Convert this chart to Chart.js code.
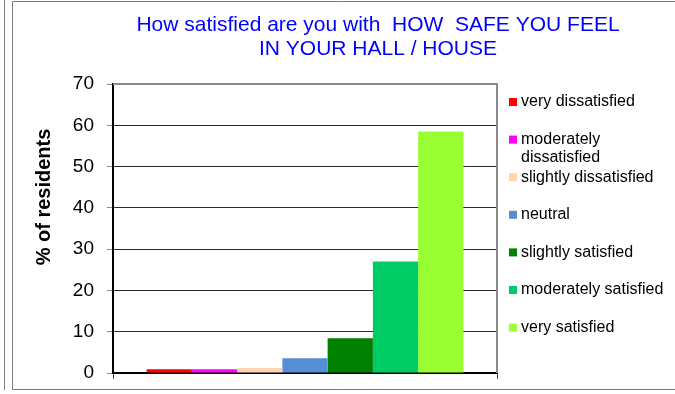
<!DOCTYPE html>
<html>
<head>
<meta charset="utf-8">
<script src="https://cdn.jsdelivr.net/npm/chart.js@4/dist/chart.umd.min.js"></script>
<style>
  html, body { margin: 0; padding: 0; background: #fff; }
  #wrap { width: 675px; height: 394px; }
</style>
</head>
<body>
<div id="wrap"><canvas id="c" width="675" height="394"></canvas></div>
<script>
// Survey question and answers
const titleLines = ['How satisfied are you with  HOW  SAFE YOU FEEL', 'IN YOUR HALL / HOUSE'];
const yAxisTitle = '% of residents';
const categories = [''];
const seriesLabels = [
  'very dissatisfied',
  'moderately dissatisfied',
  'slightly dissatisfied',
  'neutral',
  'slightly satisfied',
  'moderately satisfied',
  'very satisfied'
];
// % of residents giving each answer
const seriesValues = [0.9, 0.9, 1.2, 3.6, 8.4, 27.0, 58.5];
const seriesColors = ['#FF0000', '#FF00FF', '#FFD6B3', '#558ED5', '#008000', '#00CC66', '#99FF33'];
const yTicks = [0, 10, 20, 30, 40, 50, 60, 70];

const FONT = 'Liberation Sans, Arial, sans-serif';

// Outer frame, plot box, title, axis title and legend
const decorations = {
  id: 'decorations',
  beforeDraw(chart) {
    const ctx = chart.ctx;
    ctx.save();
    ctx.fillStyle = '#fff';
    ctx.fillRect(0, 0, chart.width, chart.height);
    ctx.strokeStyle = '#7a7a7a';
    ctx.lineWidth = 1;
    ctx.beginPath();
    ctx.moveTo(4.5, 0); ctx.lineTo(4.5, 390);
    ctx.moveTo(12.5, 1.5); ctx.lineTo(12.5, 389.5);
    ctx.moveTo(12.5, 1.5); ctx.lineTo(675, 1.5);
    ctx.moveTo(12.5, 389.5); ctx.lineTo(675, 389.5);
    ctx.stroke();
    ctx.restore();
  },
  afterDraw(chart) {
    const ctx = chart.ctx;
    const a = chart.chartArea;
    ctx.save();
    // plot box top and right edges
    ctx.strokeStyle = '#8c8c8c';
    ctx.lineWidth = 2;
    ctx.beginPath();
    ctx.moveTo(a.left, a.top); ctx.lineTo(a.right, a.top); ctx.lineTo(a.right, a.bottom);
    ctx.stroke();

    // title
    ctx.fillStyle = '#0000FF';
    ctx.font = '21px ' + FONT;
    ctx.textAlign = 'center';
    ctx.textBaseline = 'middle';
    titleLines.forEach((t, i) => ctx.fillText(t, 378, 25 + i * 24.5));

    // y axis title
    ctx.save();
    ctx.translate(44, 197);
    ctx.rotate(-Math.PI / 2);
    ctx.fillStyle = '#000';
    ctx.font = 'bold 20px ' + FONT;
    ctx.fillText(yAxisTitle, 0, 0);
    ctx.restore();

    // legend
    ctx.font = '16px ' + FONT;
    ctx.textAlign = 'left';
    ctx.textBaseline = 'middle';
    const lx = a.right + 12;
    chart.data.datasets.forEach((ds, i) => {
      const y = a.top + 18 + i * 37.6;
      ctx.fillStyle = ds.backgroundColor;
      ctx.fillRect(lx, y - 4, 8, 8);
      ctx.fillStyle = '#000';
      // wrap long labels onto a second line
      const words = ds.label.split(' ');
      const lines = [];
      let cur = '';
      words.forEach(w => {
        const test = cur ? cur + ' ' + w : w;
        if (cur && ctx.measureText(test).width > 150) { lines.push(cur); cur = w; }
        else cur = test;
      });
      lines.push(cur);
      lines.forEach((ln, k) => ctx.fillText(ln, lx + 12, y + k * 18));
    });
    ctx.restore();
  }
};

new Chart(document.getElementById('c'), {
  type: 'bar',
  data: {
    labels: categories,
    datasets: seriesLabels.map((label, i) => ({
      label,
      data: [seriesValues[i]],
      backgroundColor: seriesColors[i],
      borderWidth: 0
    }))
  },
  options: {
    responsive: false,
    animation: false,
    devicePixelRatio: 1,
    layout: { padding: { left: 0, right: 178, top: 84, bottom: 15 } },
    datasets: { bar: { barPercentage: 1, categoryPercentage: 0.825 } },
    plugins: {
      legend: { display: false },
      title: { display: false },
      tooltip: { enabled: false }
    },
    scales: {
      x: {
        offset: true,
        grid: {
          offset: true,
          drawOnChartArea: false,
          drawTicks: true,
          tickLength: 6,
          color: '#444'
        },
        border: { color: '#000', width: 2 },
        ticks: { display: false },
        afterFit(s) { s.height = 6; }
      },
      y: {
        min: 0,
        max: 70,
        afterBuildTicks(s) { s.ticks = yTicks.map(v => ({ value: v })); },
        grid: {
          color: '#2a2a2a',
          lineWidth: 1,
          tickLength: 6,
          tickColor: '#888',
          drawTicks: true
        },
        border: { color: '#000', width: 2 },
        ticks: {
          padding: 13,
          color: '#000',
          font: { family: FONT, size: 19 }
        },
        afterFit(s) {
          s.width = 113;
          s.paddingTop = 0;
          s.paddingBottom = 0;
        }
      }
    }
  },
  plugins: [decorations]
});
</script>
</body>
</html>
